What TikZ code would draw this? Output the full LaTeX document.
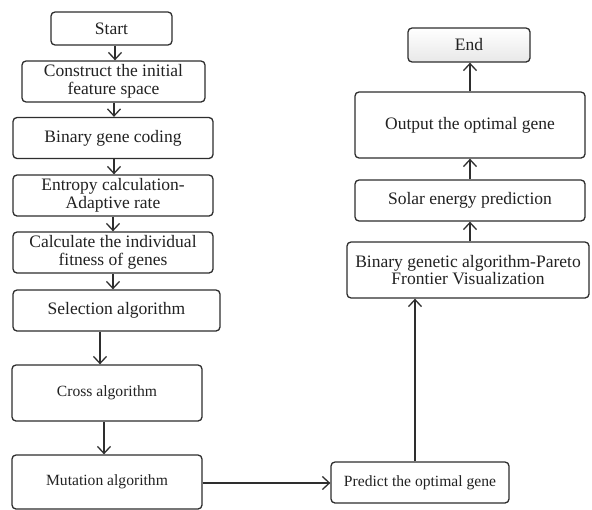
\documentclass[tikz,border=0pt]{standalone}
\usepackage{fontspec}
\setmainfont{Liberation Serif}
\usetikzlibrary{arrows.meta,positioning}
\definecolor{edge}{HTML}{2E2E2E}
\definecolor{txt}{HTML}{222222}
\tikzset{
  box/.style={draw=edge, line width=1.3pt, rounded corners=4pt, fill=white,
    text=txt, font=\fontsize{17.5}{17.5}\selectfont, align=center, inner sep=0pt},
  smalltext/.style={font=\fontsize{15.6}{16}\selectfont},
  endbox/.style={box, top color=white, bottom color=black!9},
  conn/.style={draw=edge, line width=1.3pt, -{Straight Barb[length=7pt,width=13pt,line width=1.3pt]}},
}
\begin{document}
\begin{tikzpicture}[x=1pt,y=-1pt]
\useasboundingbox (0,0) rectangle (592,509);
% left column
\node[box, minimum width=121pt, minimum height=33pt] (start) at (111.5,28.5) {Start};
\node[box, minimum width=183pt, minimum height=41pt] (construct) at (113.5,81.5) {Construct the initial\\feature space};
\node[box, minimum width=200pt, minimum height=41pt] (binary) at (113,138) {Binary gene coding};
\node[box, minimum width=200pt, minimum height=41pt] (entropy) at (113,195.5) {Entropy calculation-\\Adaptive rate};
\node[box, minimum width=200pt, minimum height=41pt] (calc) at (113,252.5) {Calculate the individual\\fitness of genes};
\node[box, minimum width=207pt, minimum height=41pt] (select) at (116.5,310.5) {Selection algorithm};
\node[box, smalltext, minimum width=190pt, minimum height=56pt] (cross) at (107,393) {Cross algorithm};
\node[box, smalltext, minimum width=190pt, minimum height=54pt] (mutation) at (107,482) {Mutation algorithm};
% right column
\node[box, smalltext, minimum width=178pt, minimum height=41pt] (predict) at (420,482.5) {Predict the optimal gene};
\node[box, minimum width=242pt, minimum height=56pt] (pareto) at (468,270) {Binary genetic algorithm-Pareto\\Frontier Visualization};
\node[box, minimum width=230pt, minimum height=41pt] (solar) at (470,200.5) {Solar energy prediction};
\node[box, minimum width=230pt, minimum height=66pt] (output) at (470,125) {Output the optimal gene};
\node[endbox, minimum width=122pt, minimum height=34pt] (end) at (469,45) {End};
% connectors
\draw[conn] (start.south -| 115,0) -- (construct.north -| 115,0);
\draw[conn] (construct.south -| 114,0) -- (binary.north -| 114,0);
\draw[conn] (binary.south -| 114,0) -- (entropy.north -| 114,0);
\draw[conn] (entropy.south -| 113,0) -- (calc.north -| 113,0);
\draw[conn] (calc.south -| 113,0) -- (select.north -| 113,0);
\draw[conn] (select.south -| 100,0) -- (cross.north -| 100,0);
\draw[conn] (cross.south -| 104,0) -- (mutation.north -| 104,0);
\draw[conn] (mutation.east |- 0,483) -- (predict.west |- 0,483);
\draw[conn] (predict.north -| 415,0) -- (pareto.south -| 415,0);
\draw[conn] (pareto.north -| 470,0) -- (solar.south -| 470,0);
\draw[conn] (solar.north -| 470,0) -- (output.south -| 470,0);
\draw[conn] (output.north -| 470,0) -- (end.south -| 470,0);
\end{tikzpicture}
\end{document}
